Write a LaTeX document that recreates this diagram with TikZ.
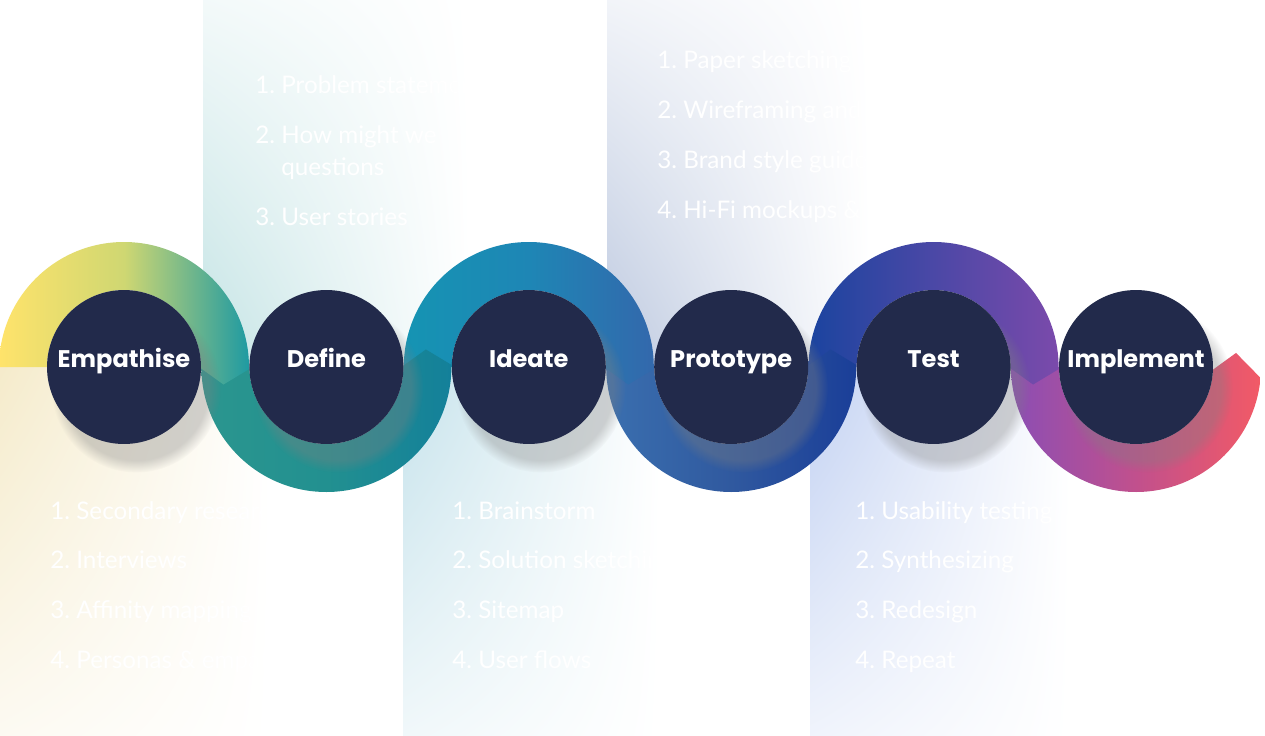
\documentclass[tikz,border=0pt]{standalone}
\usepackage{fontspec}
\newfontfamily\latofont{Lato}
\newfontfamily\popfont{Poppins}
\usetikzlibrary{shadows,shadings}
\definecolor{navy}{HTML}{222A4B}
\definecolor{rl0}{HTML}{FFE36B}\definecolor{rm0}{HTML}{CFD772}\definecolor{rr0}{HTML}{1E9AA2}
\definecolor{rl1}{HTML}{2B968F}\definecolor{rm1}{HTML}{229090}\definecolor{rr1}{HTML}{13809A}
\definecolor{rl2}{HTML}{1594B3}\definecolor{rm2}{HTML}{1E86B5}\definecolor{rr2}{HTML}{3368AC}
\definecolor{rl3}{HTML}{3A6FAF}\definecolor{rm3}{HTML}{30599F}\definecolor{rr3}{HTML}{1A3E98}
\definecolor{rl4}{HTML}{1B449F}\definecolor{rm4}{HTML}{4B48A6}\definecolor{rr4}{HTML}{7B4AAB}
\definecolor{rl5}{HTML}{8B4EB4}\definecolor{rm5}{HTML}{C1508D}\definecolor{rr5}{HTML}{F25A66}
\definecolor{paneltealtop}{HTML}{C3E3E4}
\definecolor{panelbluetop}{HTML}{BCC8DF}
\definecolor{panelyellow}{HTML}{F5EBCB}
\definecolor{paneltealbot}{HTML}{C5E2EB}
\definecolor{panelbluebot}{HTML}{C2D1F2}
\begin{document}
\begin{tikzpicture}
  [x=0.02cm, y=0.02cm,
  stepcircle/.style={circle, fill=navy, minimum size=3.08cm, inner sep=0pt,
    text=white, font=\popfont\bfseries\fontsize{13.7}{16}\selectfont,
    text height=0pt, text depth=0pt,
    circular drop shadow={shadow xshift=0.22cm, shadow yshift=-0.38cm, opacity=0.35}},
  steplist/.style={anchor=base west, inner sep=0pt, text=white,
    font=\latofont\fontsize{13.8}{16.5}\selectfont}]
  \useasboundingbox (0,0) rectangle (1265,735);
  \fill[white] (0,0) rectangle (1265,735);

  \shade[upper left=paneltealtop!20, upper right=white, lower left=paneltealtop, lower right=white]
    (203,368) rectangle (470,735);
  \shade[upper left=panelbluetop!20, upper right=white, lower left=panelbluetop, lower right=white]
    (607,368) rectangle (870,735);
  \shade[upper left=panelyellow, upper right=white, lower left=panelyellow!25, lower right=white]
    (0,0) rectangle (270,368);
  \shade[upper left=paneltealbot, upper right=white, lower left=paneltealbot!25, lower right=white]
    (403,0) rectangle (660,368);
  \shade[upper left=panelbluebot, upper right=white, lower left=panelbluebot!25, lower right=white]
    (810,0) rectangle (1070,368);

  \foreach \i in {5,4,...,0}{
    \pgfmathsetmacro\cx{124+202.4*\i}
    \pgfmathsetmacro\oend{\i==5 ? 355 : 361}
    \pgfmathsetmacro\iend{\i==5 ? 358 : 361}
    \pgfmathsetmacro\tip{\i==5 ? 368 : 370}
    \ifodd\i
      \shade[left color=rl\i, right color=rr\i, middle color=rm\i, shift={(\cx,368)}]
        (180:125) arc[start angle=180, end angle=\oend, radius=125] -- (\tip:101)
        -- (\iend:77) arc[start angle=\iend, end angle=180, radius=77] -- cycle;
    \else
      \shade[left color=rl\i, right color=rr\i, middle color=rm\i, shift={(\cx,368)}]
        (180:125) arc[start angle=180, end angle=-1, radius=125] -- (-10:101)
        -- (-1:77) arc[start angle=-1, end angle=180, radius=77] -- cycle;
    \fi
  }

  \node[stepcircle] (empathise) at (124,368) {Empathise};
  \node[stepcircle] (define) at (326.4,368) {Define};
  \node[stepcircle] (ideate) at (528.8,368) {Ideate};
  \node[stepcircle] (prototype) at (731.2,368) {Prototype};
  \node[stepcircle] (test) at (933.6,368) {Test};
  \node[stepcircle] (implement) at (1136,368) {Implement};

  \node[steplist] (definelist) at (255,641) {\begin{tabular}[t]{@{}p{0.52cm}@{}l@{}}
    1.&Problem statement\\[11.95pt]
    2.&How might we\\[1.7pt]
    &questions\\[11.95pt]
    3.&User stories\end{tabular}};
  \node[steplist] (prototypelist) at (657,666) {\begin{tabular}[t]{@{}p{0.52cm}@{}l@{}}
    1.&Paper sketching\\[11.95pt]
    2.&Wireframing and Wireflows\\[11.95pt]
    3.&Brand style guide\\[11.95pt]
    4.&Hi-Fi mockups \& Prototyping\end{tabular}};
  \node[steplist] (empathiselist) at (50,216) {\begin{tabular}[t]{@{}p{0.52cm}@{}l@{}}
    1.&Secondary research\\[11.95pt]
    2.&Interviews\\[11.95pt]
    3.&Affinity mapping\\[11.95pt]
    4.&Personas \& empathy maps\end{tabular}};
  \node[steplist] (ideatelist) at (452,216) {\begin{tabular}[t]{@{}p{0.52cm}@{}l@{}}
    1.&Brainstorm\\[11.95pt]
    2.&Solution sketching\\[11.95pt]
    3.&Sitemap\\[11.95pt]
    4.&User flows\end{tabular}};
  \node[steplist] (testlist) at (855,216) {\begin{tabular}[t]{@{}p{0.52cm}@{}l@{}}
    1.&Usability testing\\[11.95pt]
    2.&Synthesizing\\[11.95pt]
    3.&Redesign\\[11.95pt]
    4.&Repeat\end{tabular}};
\end{tikzpicture}
\end{document}
